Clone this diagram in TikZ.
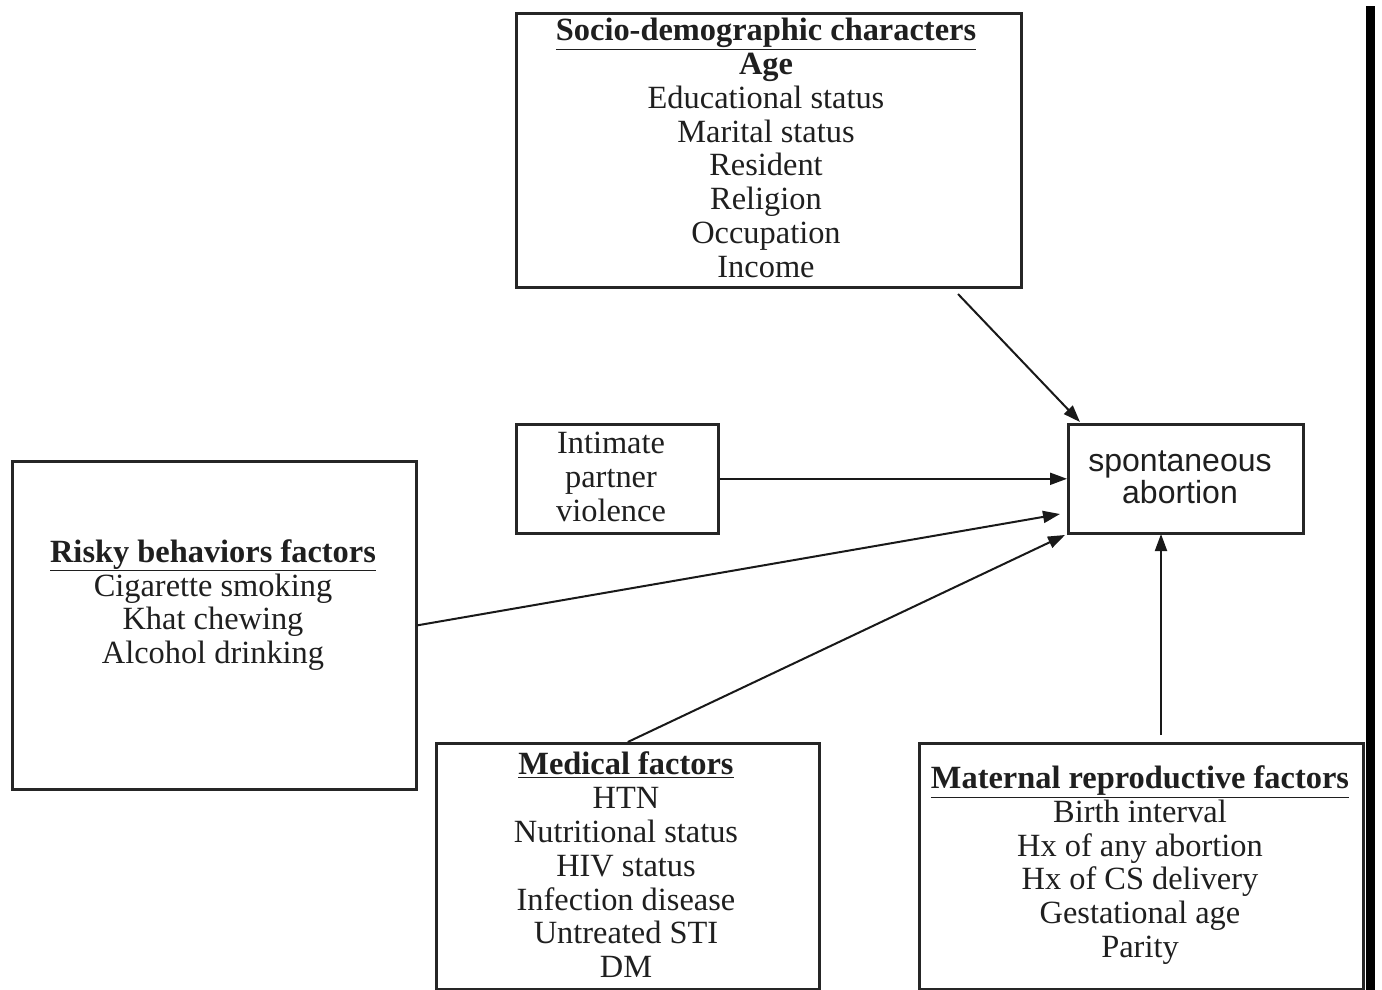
\documentclass[tikz,border=0pt]{standalone}
\usepackage{fontspec}
\setmainfont{Liberation Serif}
\newfontfamily\arialfont{Liberation Sans}
\usetikzlibrary{arrows.meta}
\tikzset{
  box/.style={draw=black!85, line width=2.6pt, fill=white, inner sep=0pt, anchor=north west},
  txt/.style={align=center, font=\fontsize{32.4}{33.8}\selectfont, text=black!88, inner sep=0pt},
  conn/.style={line width=2pt, draw=black!90, -{Triangle[length=17pt,width=12pt]}}
}
\begin{document}
\begin{tikzpicture}[x=1pt,y=-1pt]
\useasboundingbox[fill=white] (0,0) rectangle (1382,990);
% frame line on the right
\fill[black] (1366,6) rectangle (1375,990);
% boxes
\node[box, minimum width=505pt, minimum height=274pt] (socio) at (515,12) {};
\node[box, minimum width=202pt, minimum height=109pt] (ipv) at (515,423) {};
\node[box, minimum width=235pt, minimum height=109pt] (spont) at (1067,423) {};
\node[box, minimum width=404pt, minimum height=328pt] (risky) at (11,460) {};
\node[box, minimum width=383pt, minimum height=246pt] (medical) at (435,742) {};
\node[box, minimum width=444pt, minimum height=246pt] (maternal) at (918,742) {};
% texts
\node[txt] (sociot) at (766,148) {\underline{\textbf{Socio-demographic characters}}\\ \textbf{Age}\\ Educational status\\ Marital status\\ Resident\\ Religion\\ Occupation\\ Income};
\node[txt] (ipvt) at (611,477) {Intimate\\ partner\\ violence};
\node[txt, font=\arialfont\fontsize{32}{32}\selectfont] (spontt) at (1180,477) {spontaneous\\ abortion};
\node[txt] (riskyt) at (213,605) {\underline{\textbf{Risky behaviors factors}}\\ Cigarette smoking\\ Khat chewing\\ Alcohol drinking};
\node[txt] (medicalt) at (626,865) {\underline{\textbf{Medical factors}}\\ HTN\\ Nutritional status\\ HIV status\\ Infection disease\\ Untreated STI\\ DM};
\node[txt] (maternalt) at (1140,865) {\underline{\textbf{Maternal reproductive factors}}\\ Birth interval\\ Hx of any abortion\\ Hx of CS delivery\\ Gestational age\\ Parity};
% connector end points
\coordinate (s1) at (958,294);
\coordinate (s2) at (1080,422);
\coordinate (r2) at (1060,514);
\coordinate (m2) at (1065,535);
\coordinate (p1) at (1161,735);
\coordinate (p2) at (1161,534);
% connectors
\draw[conn] (s1) -- (s2);
\draw[conn] (ipv.east) -- (spont.west);
\draw[conn] (risky.east) -- (r2);
\draw[conn] (medical.north) -- (m2);
\draw[conn] (p1) -- (p2);
\end{tikzpicture}
\end{document}
